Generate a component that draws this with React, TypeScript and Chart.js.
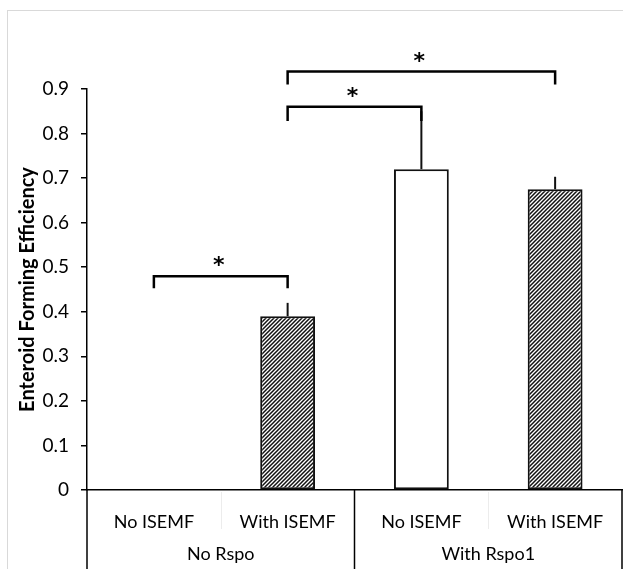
import React, { useEffect, useRef } from "react";
import { Chart, registerables } from "chart.js";

Chart.register(...registerables);

// ---- data ----
const categories = ["No ISEMF", "With ISEMF", "No ISEMF", "With ISEMF"];
const groupLabels = ["No Rspo", "With Rspo1"];
const groupSizes = [2, 2];
const values = [0, 0.39, 0.72, 0.675];
const errors = [0, 0.03, 0.13, 0.028];
const hatched = [true, true, false, true];
const yTickValues = [0, 0.1, 0.2, 0.3, 0.4, 0.5, 0.6, 0.7, 0.8, 0.9];
const yTickLabels = ["0", "0.1", "0.2", "0.3", "0.4", "0.5", "0.6", "0.7", "0.8", "0.9"];
const yTitle = "Enteroid Forming Efficiency";
// significance brackets (category indices, value levels)
const bracketFrom = [1, 1, 0];
const bracketTo = [3, 2, 1];
const bracketLevel = [0.939, 0.86, 0.48];
const bracketEnd = [0.91, 0.828, 0.453];
const bracketMark = ["*", "*", "*"];

const FONT = "Lato, 'Open Sans', sans-serif";

function makeHatch(): CanvasPattern | string {
  const c = document.createElement("canvas");
  const s = 4;
  c.width = s;
  c.height = s;
  const g = c.getContext("2d");
  if (!g) return "#666";
  g.fillStyle = "#fff";
  g.fillRect(0, 0, s, s);
  g.strokeStyle = "#111";
  g.lineWidth = 1.5;
  g.beginPath();
  g.moveTo(0, s);
  g.lineTo(s, 0);
  g.moveTo(-1, 1);
  g.lineTo(1, -1);
  g.moveTo(s - 1, s + 1);
  g.lineTo(s + 1, s - 1);
  g.stroke();
  const p = g.createPattern(c, "repeat");
  return p || "#666";
}

const decorPlugin = {
  id: "decor",
  beforeDraw(chart: any) {
    const ctx = chart.ctx;
    ctx.save();
    ctx.strokeStyle = "#d9d9d9";
    ctx.lineWidth = 1;
    ctx.strokeRect(7.5, 10.5, chart.width + 20, chart.height + 20);
    ctx.restore();
  },
  afterDatasetsDraw(chart: any) {
    const ctx = chart.ctx;
    const x = chart.scales.x;
    const y = chart.scales.y;
    ctx.save();
    // error bars (upper only)
    ctx.strokeStyle = "#111";
    ctx.lineWidth = 2;
    values.forEach((v, i) => {
      if (!errors[i]) return;
      const px = x.getPixelForValue(i);
      ctx.beginPath();
      ctx.moveTo(px, y.getPixelForValue(v));
      ctx.lineTo(px, y.getPixelForValue(v + errors[i]));
      ctx.stroke();
    });
    // brackets
    ctx.lineWidth = 2.5;
    ctx.strokeStyle = "#000";
    ctx.fillStyle = "#000";
    ctx.font = "bold 22px 'DejaVu Sans', sans-serif";
    ctx.textAlign = "center";
    ctx.textBaseline = "alphabetic";
    bracketFrom.forEach((f, i) => {
      const x1 = x.getPixelForValue(f);
      const x2 = x.getPixelForValue(bracketTo[i]);
      const yl = y.getPixelForValue(bracketLevel[i]);
      const ye = y.getPixelForValue(bracketEnd[i]);
      ctx.beginPath();
      ctx.moveTo(x1, ye);
      ctx.lineTo(x1, yl);
      ctx.lineTo(x2, yl);
      ctx.lineTo(x2, ye);
      ctx.stroke();
      const m = ctx.measureText(bracketMark[i]);
      const cy = yl - 15;
      const base = cy + (m.actualBoundingBoxAscent - m.actualBoundingBoxDescent) / 2;
      ctx.fillText(bracketMark[i], (x1 + x2) / 2 - 2, base);
    });
    ctx.restore();
  },
  afterDraw(chart: any) {
    const ctx = chart.ctx;
    const x = chart.scales.x;
    const area = chart.chartArea;
    const half = (x.getPixelForValue(1) - x.getPixelForValue(0)) / 2;
    ctx.save();
    // minor separators
    ctx.strokeStyle = "#ececec";
    ctx.lineWidth = 1;
    let start = 0;
    groupSizes.forEach((n) => {
      for (let k = 1; k < n; k++) {
        const px = Math.round(x.getPixelForValue(start + k) - half) + 0.5;
        ctx.beginPath();
        ctx.moveTo(px, area.bottom + 2);
        ctx.lineTo(px, area.bottom + 39);
        ctx.stroke();
      }
      start += n;
    });
    // major separators
    ctx.strokeStyle = "#000";
    ctx.lineWidth = 1.5;
    start = 0;
    const bounds: number[] = [0];
    groupSizes.forEach((n) => {
      start += n;
      bounds.push(start);
    });
    bounds.forEach((b) => {
      const px = b === 0 ? area.left : b === categories.length ? area.right : x.getPixelForValue(b) - half;
      ctx.beginPath();
      ctx.moveTo(px, area.bottom);
      ctx.lineTo(px, chart.height);
      ctx.stroke();
    });
    // labels
    ctx.fillStyle = "#000";
    ctx.font = `18px ${FONT}`;
    ctx.textAlign = "center";
    ctx.textBaseline = "middle";
    categories.forEach((c, i) => {
      ctx.fillText(c, x.getPixelForValue(i), area.bottom + 32);
    });
    start = 0;
    groupLabels.forEach((g, gi) => {
      const a = x.getPixelForValue(start);
      const b = x.getPixelForValue(start + groupSizes[gi] - 1);
      ctx.fillText(g, (a + b) / 2, area.bottom + 64);
      start += groupSizes[gi];
    });
    ctx.restore();
  },
};

export default function App() {
  const ref = useRef<HTMLCanvasElement | null>(null);
  useEffect(() => {
    if (!ref.current) return;
    const pattern = makeHatch();
    const chart = new Chart(ref.current, {
      type: "bar",
      data: {
        labels: categories,
        datasets: [
          {
            data: values,
            backgroundColor: hatched.map((h) => (h ? pattern : "#ffffff")) as any,
            borderColor: "#111",
            borderWidth: values.map((v) => (v === 0 ? 0 : 2)),
            borderSkipped: false,
            barPercentage: 0.41,
            categoryPercentage: 1,
          },
        ],
      },
      options: {
        animation: false,
        responsive: false,
        devicePixelRatio: 1,
        layout: { padding: { top: 89, right: 1, left: 0, bottom: 0 } },
        plugins: { legend: { display: false }, tooltip: { enabled: false } },
        scales: {
          x: {
            type: "category",
            offset: true,
            grid: { display: false },
            border: { display: true, color: "#000", width: 1.5 },
            ticks: { display: false },
            afterFit: (s: any) => {
              s.height = 79;
            },
          },
          y: {
            min: 0,
            max: 0.9,
            afterBuildTicks: (s: any) => {
              s.ticks = yTickValues.map((v) => ({ value: v }));
            },
            ticks: {
              color: "#000",
              padding: 12,
              font: { family: FONT, size: 19 },
              callback: (_v: any, i: number) => yTickLabels[i],
            },
            grid: {
              drawOnChartArea: false,
              drawTicks: true,
              tickLength: 6,
              color: "#000",
              lineWidth: 1.5,
            },
            border: { color: "#000", width: 1.5 },
            title: {
              display: true,
              text: yTitle,
              color: "#000",
              font: { family: FONT, size: 20, weight: "bold" },
              padding: { top: 16, bottom: 0 },
            },
            afterFit: (s: any) => {
              s.width = 87;
            },
          },
        },
      },
      plugins: [decorPlugin],
    });
    return () => chart.destroy();
  }, []);
  return (
    <div style={{ position: "absolute", left: 0, top: 0, width: 623, height: 569, background: "#fff" }}>
      <canvas ref={ref} width={623} height={569} style={{ width: 623, height: 569, display: "block" }} />
    </div>
  );
}
